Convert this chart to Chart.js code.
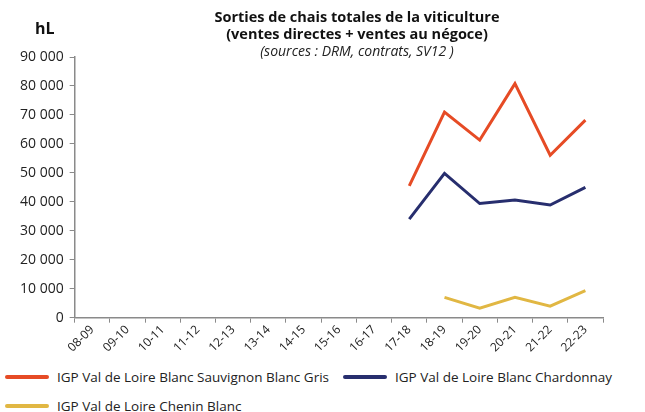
<!DOCTYPE html>
<html>
<head>
<meta charset="utf-8">
<script src="https://cdn.jsdelivr.net/npm/chart.js@4.4.0/dist/chart.umd.min.js"></script>
<style>
  html, body { margin: 0; padding: 0; background: #fff; }
  #wrap { position: relative; width: 645px; height: 412px; font-family: "Open Sans", sans-serif; color: #111; overflow: hidden; }
  #title { position: absolute; left: 107px; width: 500px; top: 8px; text-align: center; font-size: 14.5px; line-height: 17px; }
  #title b { font-weight: 700; }
  #title i { display: block; font-weight: 400; font-size: 14px; color: #222; }
  #unit { position: absolute; left: 35px; top: 17px; font-size: 16px; font-weight: 700; }
  canvas { position: absolute; left: 0; top: 0; }
  .legend-item { position: absolute; height: 20px; font-size: 13.5px; line-height: 20px; color: #222; white-space: nowrap; }
  .legend-item span.swatch { position: absolute; left: 0; top: 8px; width: 44px; height: 4px; border-radius: 2px; }
  .legend-item span.text { position: absolute; left: 52px; top: 0; }
</style>
</head>
<body>
<div id="wrap">
  <canvas id="chaisChart" width="645" height="355"></canvas>
  <div id="unit">hL</div>
  <div id="title"><b>Sorties de chais totales de la viticulture<br>(ventes directes + ventes au négoce)</b><i>(sources : DRM, contrats, SV12 )</i></div>
  <div id="legend"></div>
</div>
<script>
// Campaigns on the x axis
const campaigns = ['08-09', '09-10', '10-11', '11-12', '12-13', '13-14', '14-15', '15-16',
                   '16-17', '17-18', '18-19', '19-20', '20-21', '21-22', '22-23'];

// Volumes in hL per wine (no data before 17-18)
const sauvignonGris = [null, null, null, null, null, null, null, null, null, 45500, 71000, 61300, 80800, 56100, 68200];
const chardonnay = [null, null, null, null, null, null, null, null, null, 34000, 49800, 39400, 40600, 38900, 45000];
const cheninBlanc = [null, null, null, null, null, null, null, null, null, null, 7000, 3300, 7000, 4000, 9300];

const seriesNames = ['IGP Val de Loire Blanc Sauvignon Blanc Gris', 'IGP Val de Loire Blanc Chardonnay', 'IGP Val de Loire Chenin Blanc'];
const seriesColors = ['#E64B25', '#272E6E', '#E1B743'];

// Format numbers with a space as thousands separator
function formatThousands(value) {
    return value.toString().replace(/\B(?=(\d{3})+(?!\d))/g, ' ');
}

const axisColor = '#8a8a8a';
const fontFamily = '"Open Sans", sans-serif';

const ctx = document.getElementById('chaisChart').getContext('2d');
const chaisChart = new Chart(ctx, {
    type: 'line',
    data: {
        labels: campaigns,
        datasets: [sauvignonGris, chardonnay, cheninBlanc].map((values, i) => ({
            label: seriesNames[i],
            data: values,
            borderColor: seriesColors[i],
            backgroundColor: seriesColors[i],
            borderWidth: 3,
            pointRadius: 0,
            tension: 0,
            fill: false
        }))
    },
    options: {
        responsive: false,
        animation: false,
        layout: { padding: { top: 57, left: 14, right: 42, bottom: 0 } },
        scales: {
            x: {
                offset: true,
                grid: { display: true, drawOnChartArea: false, offset: true, color: axisColor, tickLength: 5 },
                border: { color: axisColor, width: 1.5 },
                ticks: {
                    color: '#222',
                    font: { family: fontFamily, size: 12 },
                    maxRotation: 45,
                    minRotation: 45,
                    autoSkip: false,
                    padding: 0
                }
            },
            y: {
                min: 0,
                max: 90000,
                grid: { display: true, drawOnChartArea: false, color: axisColor, tickLength: 5 },
                border: { color: axisColor, width: 1.5 },
                ticks: {
                    stepSize: 10000,
                    color: '#222',
                    font: { family: fontFamily, size: 14 },
                    padding: 6,
                    callback: value => formatThousands(value)
                }
            }
        },
        plugins: {
            tooltip: { enabled: false },
            legend: { display: false }
        }
    }
});

// Legend below the chart, built from the datasets
const legendPositions = [[5, 367], [343, 367], [5, 396]];
const legendBox = document.getElementById('legend');
chaisChart.data.datasets.forEach((ds, i) => {
    const item = document.createElement('div');
    item.className = 'legend-item';
    item.style.left = legendPositions[i][0] + 'px';
    item.style.top = legendPositions[i][1] + 'px';
    item.innerHTML = '<span class="swatch" style="background:' + ds.borderColor + '"></span><span class="text">' + ds.label + '</span>';
    legendBox.appendChild(item);
});
</script>
</body>
</html>
